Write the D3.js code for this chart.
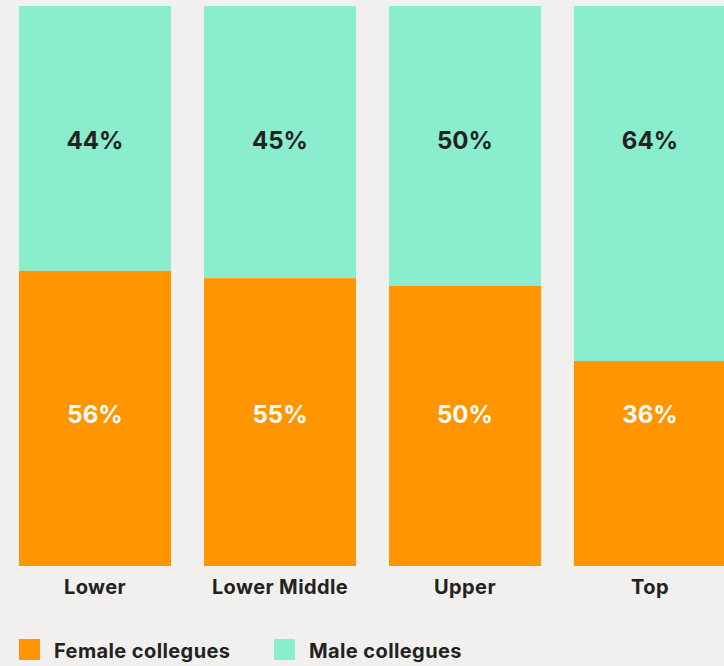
<!DOCTYPE html>
<html>
<head>
    <meta charset="utf-8">
    <script src="https://cdn.jsdelivr.net/npm/d3@7"></script>
    <style>
        body { margin: 0; background: #f1f0ee; }
        svg { display: block; font-family: Inter, "Noto Sans", sans-serif; }
    </style>
</head>
<body>
</body>
<script>
    var w = 724
    var h = 666

    var categories = ["Lower", "Lower Middle", "Upper", "Top"]
    // share of female colleagues as drawn by the bars
    var femaleShare = [0.527, 0.514, 0.50, 0.366]
    var femaleLabels = ["56%", "55%", "50%", "36%"]
    var maleLabels = ["44%", "45%", "50%", "64%"]
    var seriesNames = ["Female collegues", "Male collegues"]
    var colors = ["#ff9500", "#8aeece"]

    var svg = d3.select("body")
        .append("svg")
        .attr("width", w)
        .attr("height", h)

    var x = d3.scaleBand()
        .domain(categories)
        .range([19, 726])
        .paddingInner(0.178)
        .paddingOuter(0)

    var y = d3.scaleLinear()
        .domain([0, 1])
        .range([566, 6])

    var groups = svg.selectAll("g.bar")
        .data(categories)
        .enter()
        .append("g")
        .attr("class", "bar")

    // male part on top (full bar), female on bottom
    groups.append("rect")
        .attr("x", function(d) { return x(d) })
        .attr("width", x.bandwidth())
        .attr("y", y(1))
        .attr("height", function(d, i) { return y(femaleShare[i]) - y(1) })
        .attr("fill", colors[1])

    groups.append("rect")
        .attr("x", function(d) { return x(d) })
        .attr("width", x.bandwidth())
        .attr("y", function(d, i) { return y(femaleShare[i]) })
        .attr("height", function(d, i) { return y(0) - y(femaleShare[i]) })
        .attr("fill", colors[0])

    groups.append("text")
        .text(function(d, i) { return maleLabels[i] })
        .attr("x", function(d) { return x(d) + x.bandwidth() / 2 })
        .attr("y", y(0.745))
        .attr("text-anchor", "middle")
        .attr("font-size", "24px")
        .attr("font-weight", 700)
        .attr("fill", "#222")

    groups.append("text")
        .text(function(d, i) { return femaleLabels[i] })
        .attr("x", function(d) { return x(d) + x.bandwidth() / 2 })
        .attr("y", y(0.255))
        .attr("text-anchor", "middle")
        .attr("font-size", "24px")
        .attr("font-weight", 700)
        .attr("fill", "#fff")

    // category labels
    svg.append("g")
        .attr("transform", "translate(0,566)")
        .call(d3.axisBottom(x).tickSize(0).tickPadding(0))
        .call(function(g) { g.select(".domain").remove() })
        .selectAll("text")
        .attr("dy", null)
        .attr("y", 28)
        .attr("font-family", "Inter, 'Noto Sans', sans-serif")
        .attr("font-size", "20px")
        .attr("letter-spacing", "0.4px")
        .attr("font-weight", 700)
        .attr("fill", "#222")

    // legend
    var legendX = [19, 274]
    var legend = svg.selectAll("g.legend")
        .data(seriesNames)
        .enter()
        .append("g")
        .attr("class", "legend")
        .attr("transform", function(d, i) { return "translate(" + legendX[i] + ",639)" })

    legend.append("rect")
        .attr("width", 21)
        .attr("height", 21)
        .attr("fill", function(d, i) { return colors[i] })

    legend.append("text")
        .text(function(d) { return d })
        .attr("x", 35)
        .attr("y", 19)
        .attr("font-size", "20px")
        .attr("letter-spacing", "0.4px")
        .attr("font-weight", 700)
        .attr("fill", "#222")
</script>
</html>
